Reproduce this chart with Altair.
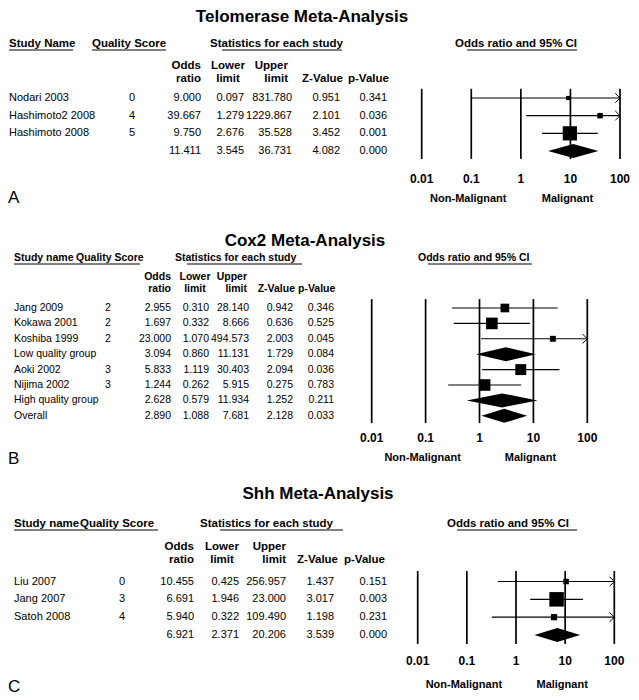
import altair as alt
import pandas as pd

FONT = "Liberation Sans"

# ---------------- data ----------------
ticks = [0.01, 0.1, 1, 10, 100]
tick_labels = ["0.01", "0.1", "1", "10", "100"]
side_labels = ["Non-Malignant", "Malignant"]
side_pos = [0.1, 10]

# Panel A: Telomerase
a_names = ["Nodari 2003", "Hashimoto2 2008", "Hashimoto 2008", ""]
a_quality = ["0", "4", "5", ""]
a_or = [9.000, 39.667, 9.750, 11.411]
a_lower = [0.097, 1.279, 2.676, 3.545]
a_upper = [831.780, 1229.867, 35.528, 36.731]
a_z = [0.951, 2.101, 3.452, 4.082]
a_p = [0.341, 0.036, 0.001, 0.000]
a_weight = [7, 12, 81, 0]
a_pooled = [False, False, False, True]

# Panel B: Cox2
b_names = ["Jang 2009", "Kokawa 2001", "Koshiba 1999", "Low quality group",
           "Aoki 2002", "Nijima 2002", "High quality group", "Overall"]
b_quality = ["2", "2", "2", "", "3", "3", "", ""]
b_or = [2.955, 1.697, 23.000, 3.094, 5.833, 1.244, 2.628, 2.890]
b_lower = [0.310, 0.332, 1.070, 0.860, 1.119, 0.262, 0.579, 1.088]
b_upper = [28.140, 8.666, 494.573, 11.131, 30.403, 5.915, 11.934, 7.681]
b_z = [0.942, 0.636, 2.003, 1.729, 2.094, 0.275, 1.252, 2.128]
b_p = [0.346, 0.525, 0.045, 0.084, 0.036, 0.783, 0.211, 0.033]
b_weight = [15, 27, 7, 0, 24, 27, 0, 0]
b_pooled = [False, False, False, True, False, False, True, True]

# Panel C: Shh
c_names = ["Liu 2007", "Jang 2007", "Satoh 2008", ""]
c_quality = ["0", "3", "4", ""]
c_or = [10.455, 6.691, 5.940, 6.921]
c_lower = [0.425, 1.946, 0.322, 2.371]
c_upper = [256.957, 23.000, 109.490, 20.206]
c_z = [1.437, 3.017, 1.198, 3.539]
c_p = [0.151, 0.003, 0.231, 0.000]
c_weight = [11, 75, 14, 0]
c_pooled = [False, False, False, True]

# ---------------- layout (styling only) ----------------
LAYOUT = {
    "A": dict(title="Telomerase Meta-Analysis", title_xy=(294, 8), height=214,
              rows=(89, 142), grid=(-0.52, 3.45), xr=(413.7, 612), fs=11, hfs=11.5,
              heads=[("Study Name", 1), ("Quality Score", 84), ("Statistics for each study", 202),
                     ("Odds ratio and 95% CI", 447)], head_y=35,
              ulines=[(1, 65), (84, 158), (214, 334), (459, 569)], uline_y=41,
              ch_y=(57, 70), ch=[(193, "right"), (220, "center"), (280, "right")],
              zh=335, ph=340,
              cols=dict(name=1, q=124, orr=193, lo=236, hi=284, z=332, p=379),
              tick_y=170, side_y=190, letter=("A", 189), k=2.5),
    "B": dict(title="Cox2 Meta-Analysis", title_xy=(297, 18), height=248,
              rows=(85, 192.8), grid=(-0.58, 7.47), xr=(363.7, 579.3), fs=10.5, hfs=10.5,
              heads=[("Study name", 6), ("Quality Score", 68), ("Statistics for each study", 167),
                     ("Odds ratio and 95% CI", 410)], head_y=35,
              ulines=[(6, 132), (179, 294), (420, 524)], uline_y=41,
              ch_y=(54, 66), ch=[(163, "right"), (187, "center"), (239, "right")],
              zh=287, ph=290,
              cols=dict(name=6, q=100, orr=163, lo=201, hi=241, z=285, p=326),
              tick_y=215, side_y=235, letter=("B", 236), k=5.0),
    "C": dict(title="Shh Meta-Analysis", title_xy=(310, 23), height=222,
              rows=(110.5, 164), grid=(-0.59, 3.5), xr=(409.7, 606.3), fs=11, hfs=11.5,
              heads=[("Study name", 6), ("Quality Score", 72), ("Statistics for each study", 192),
                     ("Odds ratio and 95% CI", 439)], head_y=53,
              ulines=[(6, 150), (212, 335), (449, 569)], uline_y=59,
              ch_y=(76, 89), ch=[(186, "right"), (214, "center"), (278, "right")],
              zh=330, ph=336,
              cols=dict(name=6, q=114, orr=186, lo=231, hi=278, z=326, p=379),
              tick_y=190, side_y=214, letter=("C", 216), k=2.8),
}


def label(txt, x, y, size, weight="bold", align="left"):
    return alt.Chart(pd.DataFrame({"t": [txt]})).mark_text(
        align=align, baseline="middle", font=FONT, fontSize=size,
        fontWeight=weight, color="black").encode(
        x=alt.value(x), y=alt.value(y), text="t:N")


def uline(x1, x2, y):
    return alt.Chart(pd.DataFrame({"a": [0]})).mark_rule(
        color="black", strokeWidth=1).encode(
        x=alt.value(x1), x2=alt.value(x2), y=alt.value(y))


def panel(key, names, quality, orr, lower, upper, z, p, weight, pooled):
    L = LAYOUT[key]
    n = len(names)
    df = pd.DataFrame({"row": list(range(n)), "name": names, "q": quality,
                       "orr": orr, "lo": lower, "hi": upper, "z": z, "p": p,
                       "w": weight, "pooled": pooled})
    studies = df[~df["pooled"]]
    pooled_df = df[df["pooled"]]

    yscale = alt.Scale(domain=[0, n - 1], range=list(L["rows"]), nice=False, zero=False)
    xscale = alt.Scale(type="log", domain=[0.01, 100], range=list(L["xr"]), nice=False)
    Y = alt.Y("row:Q", scale=yscale, axis=None)

    layers = []
    # title and letter
    layers.append(label(L["title"], L["title_xy"][0], L["title_xy"][1], 17, "bold", "center"))
    layers.append(label(L["letter"][0], 0, L["letter"][1], 17, "normal", "left"))
    # headers
    for txt, x in L["heads"]:
        layers.append(label(txt, x, L["head_y"], L["hfs"]))
    for x1, x2 in L["ulines"]:
        layers.append(uline(x1, x2, L["uline_y"]))
    y1, y2 = L["ch_y"]
    for (top, bot), (x, al) in zip([("Odds", "ratio"), ("Lower", "limit"), ("Upper", "limit")], L["ch"]):
        layers.append(label(top, x, y1, L["hfs"], "bold", al))
        layers.append(label(bot, x, y2, L["hfs"], "bold", al))
    layers.append(label("Z-Value", L["zh"], y2, L["hfs"], "bold", "right"))
    layers.append(label("p-Value", L["ph"], y2, L["hfs"], "bold", "left"))

    # table body
    def col(field, x, align, fmt=None):
        t = alt.Text(f"{field}:Q", format=fmt) if fmt else alt.Text(f"{field}:N")
        return alt.Chart(df).mark_text(
            align=align, baseline="middle", font=FONT, fontSize=L["fs"],
            color="black").encode(x=alt.value(x), y=Y, text=t)

    c = L["cols"]
    layers += [col("name", c["name"], "left"), col("q", c["q"], "center"),
               col("orr", c["orr"], "right", ".3f"), col("lo", c["lo"], "right", ".3f"),
               col("hi", c["hi"], "right", ".3f"), col("z", c["z"], "right", ".3f"),
               col("p", c["p"], "right", ".3f")]

    # forest plot
    g0, g1 = L["grid"]
    gdf = pd.DataFrame({"t": ticks, "lab": tick_labels, "g0": [g0] * 5, "g1": [g1] * 5})
    layers.append(alt.Chart(gdf).mark_rule(color="black", strokeWidth=1.7).encode(
        x=alt.X("t:Q", scale=xscale, axis=None),
        y=alt.Y("g0:Q", scale=yscale, axis=None), y2="g1:Q"))
    layers.append(alt.Chart(gdf).mark_text(
        baseline="middle", align="center", font=FONT, fontSize=12, fontWeight="bold",
        color="black").encode(x=alt.X("t:Q", scale=xscale, axis=None),
                              y=alt.value(L["tick_y"]), text="lab:N"))
    sdf = pd.DataFrame({"x": side_pos, "lab": side_labels})
    layers.append(alt.Chart(sdf).mark_text(
        baseline="middle", align="center", font=FONT, fontSize=11, fontWeight="bold",
        color="black", dx=-3).encode(x=alt.X("x:Q", scale=xscale, axis=None),
                                     y=alt.value(L["side_y"]), text="lab:N"))

    base = alt.Chart(studies).transform_calculate(hic="min(datum.hi, 100)")
    layers.append(base.mark_rule(color="black", strokeWidth=1.1).encode(
        x=alt.X("lo:Q", scale=xscale, axis=None), x2="hic:Q", y=Y))
    layers.append(base.transform_filter("datum.hi > 100").mark_point(
        shape="M-1,-1L0,0L-1,1", filled=False, size=90, color="black",
        strokeWidth=1, opacity=1).encode(
        x=alt.X("hic:Q", scale=xscale, axis=None), y=Y))
    layers.append(base.mark_square(color="black", opacity=1).encode(
        x=alt.X("orr:Q", scale=xscale, axis=None), y=Y,
        size=alt.Size("w:Q", scale=alt.Scale(domain=[0, 100], range=[0, 100 * L["k"]]),
                      legend=None)))

    # diamonds for pooled estimates
    step = (L["rows"][1] - L["rows"][0]) / (n - 1)
    h = 7.0 / step
    pts = []
    for _, r in pooled_df.iterrows():
        pts.append({"g": r["row"], "x": r["lo"], "y": r["row"], "y2": r["row"]})
        pts.append({"g": r["row"], "x": r["orr"], "y": r["row"] - h, "y2": r["row"] + h})
        pts.append({"g": r["row"], "x": r["hi"], "y": r["row"], "y2": r["row"]})
    ddf = pd.DataFrame(pts)
    layers.append(alt.Chart(ddf).mark_area(color="black", opacity=1, interpolate="linear").encode(
        x=alt.X("x:Q", scale=xscale, axis=None),
        y=alt.Y("y:Q", scale=yscale, axis=None), y2="y2:Q", detail="g:N"))

    return alt.layer(*layers).properties(width=623, height=L["height"])


pA = panel("A", a_names, a_quality, a_or, a_lower, a_upper, a_z, a_p, a_weight, a_pooled)
pB = panel("B", b_names, b_quality, b_or, b_lower, b_upper, b_z, b_p, b_weight, b_pooled)
pC = panel("C", c_names, c_quality, c_or, c_lower, c_upper, c_z, c_p, c_weight, c_pooled)

chart = alt.vconcat(pA, pB, pC, spacing=0).resolve_scale(
    size="independent", x="independent", y="independent").properties(
    padding=0, background="white").configure_view(stroke=None)

chart.save("out.html", embed_options={"renderer": "svg", "actions": False})
